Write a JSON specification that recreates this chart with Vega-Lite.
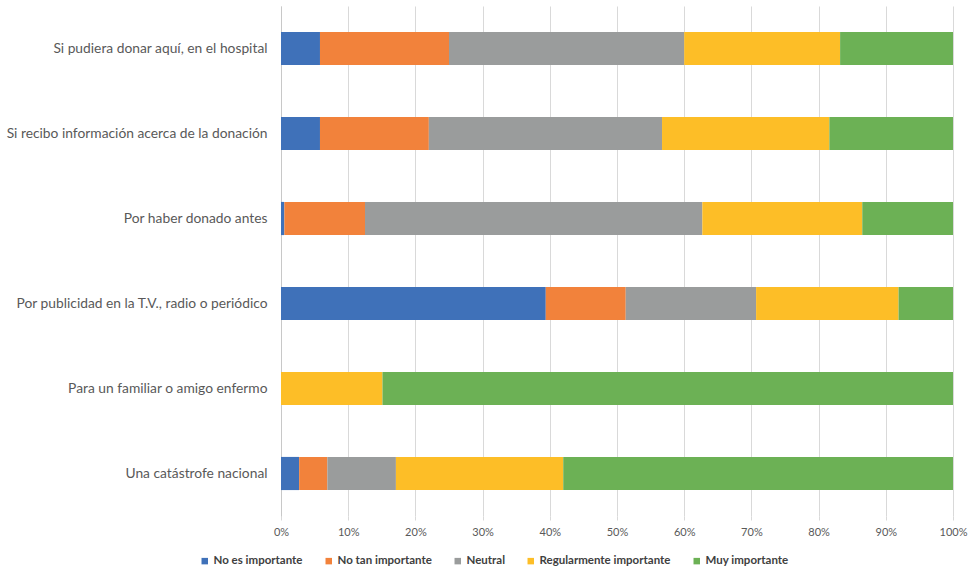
{
  "$schema": "https://vega.github.io/schema/vega-lite/v6.json",
  "width": 672,
  "height": 510,
  "autosize": "none",
  "padding": {"left": 281, "top": 6, "right": 18, "bottom": 54},
  "background": "white",
  "data": {
    "values": [
      {"motivo": "Si pudiera donar aquí, en el hospital", "respuesta": "No es importante", "pct": 5.8},
      {"motivo": "Si pudiera donar aquí, en el hospital", "respuesta": "No tan importante", "pct": 19.2},
      {"motivo": "Si pudiera donar aquí, en el hospital", "respuesta": "Neutral", "pct": 35.0},
      {"motivo": "Si pudiera donar aquí, en el hospital", "respuesta": "Regularmente importante", "pct": 23.2},
      {"motivo": "Si pudiera donar aquí, en el hospital", "respuesta": "Muy importante", "pct": 16.8},

      {"motivo": "Si recibo información acerca de la donación", "respuesta": "No es importante", "pct": 5.8},
      {"motivo": "Si recibo información acerca de la donación", "respuesta": "No tan importante", "pct": 16.2},
      {"motivo": "Si recibo información acerca de la donación", "respuesta": "Neutral", "pct": 34.7},
      {"motivo": "Si recibo información acerca de la donación", "respuesta": "Regularmente importante", "pct": 24.9},
      {"motivo": "Si recibo información acerca de la donación", "respuesta": "Muy importante", "pct": 18.4},

      {"motivo": "Por haber donado antes", "respuesta": "No es importante", "pct": 0.5},
      {"motivo": "Por haber donado antes", "respuesta": "No tan importante", "pct": 12.0},
      {"motivo": "Por haber donado antes", "respuesta": "Neutral", "pct": 50.2},
      {"motivo": "Por haber donado antes", "respuesta": "Regularmente importante", "pct": 23.8},
      {"motivo": "Por haber donado antes", "respuesta": "Muy importante", "pct": 13.5},

      {"motivo": "Por publicidad en la T.V., radio o periódico", "respuesta": "No es importante", "pct": 39.4},
      {"motivo": "Por publicidad en la T.V., radio o periódico", "respuesta": "No tan importante", "pct": 11.9},
      {"motivo": "Por publicidad en la T.V., radio o periódico", "respuesta": "Neutral", "pct": 19.4},
      {"motivo": "Por publicidad en la T.V., radio o periódico", "respuesta": "Regularmente importante", "pct": 21.2},
      {"motivo": "Por publicidad en la T.V., radio o periódico", "respuesta": "Muy importante", "pct": 8.1},

      {"motivo": "Para un familiar o amigo enfermo", "respuesta": "Regularmente importante", "pct": 15.1},
      {"motivo": "Para un familiar o amigo enfermo", "respuesta": "Muy importante", "pct": 84.9},

      {"motivo": "Una catástrofe nacional", "respuesta": "No es importante", "pct": 2.7},
      {"motivo": "Una catástrofe nacional", "respuesta": "No tan importante", "pct": 4.2},
      {"motivo": "Una catástrofe nacional", "respuesta": "Neutral", "pct": 10.2},
      {"motivo": "Una catástrofe nacional", "respuesta": "Regularmente importante", "pct": 24.9},
      {"motivo": "Una catástrofe nacional", "respuesta": "Muy importante", "pct": 58.0}
    ]
  },
  "transform": [
    {
      "calculate": "indexof(['No es importante', 'No tan importante', 'Neutral', 'Regularmente importante', 'Muy importante'], datum.respuesta)",
      "as": "nivel"
    }
  ],
  "mark": {"type": "bar"},
  "encoding": {
    "y": {
      "field": "motivo",
      "type": "nominal",
      "sort": [
        "Si pudiera donar aquí, en el hospital",
        "Si recibo información acerca de la donación",
        "Por haber donado antes",
        "Por publicidad en la T.V., radio o periódico",
        "Para un familiar o amigo enfermo",
        "Una catástrofe nacional"
      ],
      "scale": {"paddingInner": 0.61, "paddingOuter": 0.305},
      "axis": {
        "title": null,
        "ticks": false,
        "domain": true,
        "domainColor": "#c8c8c8",
        "domainWidth": 1,
        "labelFont": "Lato",
        "labelFontSize": 13.8,
        "labelColor": "#595959",
        "labelPadding": 14,
        "labelLimit": 300
      }
    },
    "x": {
      "field": "pct",
      "type": "quantitative",
      "stack": "normalize",
      "scale": {"domain": [0, 1], "nice": false},
      "axis": {
        "title": null,
        "format": ".0%",
        "values": [0, 0.1, 0.2, 0.3, 0.4, 0.5, 0.6, 0.7, 0.8, 0.9, 1],
        "grid": true,
        "gridColor": "#d9d9d9",
        "gridWidth": 1,
        "domain": false,
        "ticks": true,
        "tickColor": "#d9d9d9",
        "tickSize": 4,
        "labelFlush": false,
        "labelFont": "Lato",
        "labelFontSize": 11,
        "labelColor": "#595959",
        "labelPadding": 6
      }
    },
    "order": {"field": "nivel", "type": "quantitative", "sort": "ascending"},
    "color": {
      "field": "respuesta",
      "type": "nominal",
      "sort": ["No es importante", "No tan importante", "Neutral", "Regularmente importante", "Muy importante"],
      "scale": {
        "domain": ["No es importante", "No tan importante", "Neutral", "Regularmente importante", "Muy importante"],
        "range": ["#3f71b9", "#f2823b", "#9a9c9c", "#fdbe27", "#6cb155"]
      },
      "legend": {
        "title": null,
        "orient": "none",
        "direction": "horizontal",
        "legendX": -82,
        "legendY": 549,
        "symbolType": "square",
        "symbolSize": 42,
        "symbolStrokeWidth": 0,
        "labelFont": "Lato",
        "labelFontSize": 11.5,
        "labelFontWeight": "bold",
        "labelColor": "#404040",
        "labelOffset": 3,
        "columnPadding": 20
      }
    }
  },
  "config": {
    "view": {"stroke": null}
  }
}
